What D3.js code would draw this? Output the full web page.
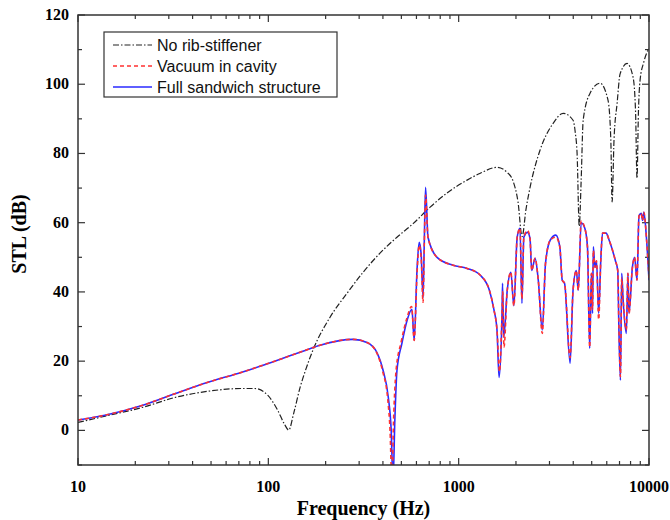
<!DOCTYPE html>
<html>
<head>
<meta charset="utf-8">
<script src="https://cdn.jsdelivr.net/npm/d3@7"></script>
<style>
  body { margin: 0; background: #fff; }
  svg { display: block; }
</style>
</head>
<body>
<svg id="chart" width="670" height="520"></svg>
<script>
// series: [frequency Hz, STL dB]
const noRib = [
  [10,2.3],[14.4,4.3],[21.7,6.6],[32.3,9.5],[48.2,11.3],[72.6,12.1],[85,12.1],[99.5,10.1],
  [112,5.8],[121,2],[128,0.1],[136,5],[147,12.5],[156,17],[171,23],[211,32.7],
  [259,39.6],[315,45.7],[386,51.2],[474,55.8],[578,59.8],[708,64.5],[865,68.5],
  [1107,72.3],[1300,74.3],[1592,76],[1800,74.5],[1932,72],[2050,66],[2154,56],
  [2260,64],[2372,70.2],[2678,81],[3135,88.7],[3540,91.6],[3990,89.6],[4100,86],
  [4190,80],[4300,59],[4400,72],[4510,89.6],[4900,97.4],[5530,100.3],[6090,95.4],
  [6300,84],[6400,66],[6550,84],[6800,94.5],[7050,103],[7670,106],[8250,102],
  [8500,92],[8650,72.8],[8800,92],[8970,101],[9400,106.5],[10000,110.4]
];

const vacuum = [
  [10,3],[14.4,4.6],[21.7,7.2],[32.3,10.6],[48.2,13.9],[72.6,16.8],[108,20],[156,23.1],
  [187,24.6],[278,26.3],[330,25.4],[372,22.3],[399,17],[424,9],[436,0],[446,-15],
  [455,3],[469,17.3],[499,25.6],[533,32.2],[566,35.8],[584,26],[604,45],[620,53.5],
  [635,50],[650,37],[660,54],[670,68],[690,55.8],[770,50],[935,47.7],[1107,46.8],
  [1300,44.8],[1450,40.5],[1530,35],[1590,29],[1640,17],[1690,33.8],[1705,40],
  [1730,24],[1800,40.5],[1880,45.7],[1950,36],[2030,55.8],[2100,58.4],[2150,38],
  [2200,55.8],[2300,57.8],[2370,55.5],[2420,46.2],[2520,49.7],[2620,43.4],[2750,28],
  [2860,48.3],[3030,55],[3240,55.8],[3400,53],[3500,43.4],[3600,42.5],[3850,21],
  [3990,40.5],[4150,46.2],[4250,40.5],[4400,60.5],[4600,58.4],[4750,53],[4880,24],
  [4980,45.4],[5050,35],[5100,52],[5200,47.1],[5300,49],[5440,32],[5580,49],
  [5700,57],[5950,57],[6170,55],[6660,49],[6850,46.2],[6950,30],[7080,15.5],
  [7190,44],[7300,38.4],[7600,29],[7750,45.4],[7850,33.8],[8180,47.1],[8400,50],
  [8650,43.4],[8860,62],[9100,62.7],[9250,60.7],[9400,63],[9700,55.5],[10000,44]
];

const fullSandwich = [
  [10,3],[14.4,4.6],[21.7,7.2],[32.3,10.6],[48.2,13.9],[72.6,16.8],[108,20],[156,23.1],
  [187,24.6],[278,26.3],[330,25.4],[372,22.5],[401,17.3],[427,9.5],[442,0],[452,-15],
  [462,3],[474,17.3],[503,25.1],[536,31.8],[568,35],[584,26],[604,46.2],[620,54.3],
  [635,51],[650,38.4],[660,55],[670,70.2],[690,55.8],[770,50],[935,47.7],[1107,46.8],
  [1300,44.8],[1450,40.5],[1530,35],[1590,29],[1630,15.3],[1690,33.8],[1700,42.5],
  [1725,26.9],[1800,40.5],[1880,45.7],[1950,36],[2030,55.8],[2100,58.4],[2150,36.7],
  [2200,55.8],[2300,57.2],[2370,55.5],[2420,46.2],[2520,49.7],[2620,43.4],[2750,29],
  [2860,48.3],[3030,55],[3240,56.4],[3400,53],[3500,43.4],[3600,42.5],[3850,19.4],
  [3990,40.5],[4150,46.2],[4250,40.5],[4400,60],[4600,58.4],[4750,53],[4880,23.7],
  [4980,45.4],[5050,33.8],[5100,53],[5200,47.1],[5300,49],[5440,33.8],[5580,49],
  [5700,57],[5950,57],[6170,55],[6660,49],[6850,46.2],[6950,29],[7080,14.5],
  [7190,45.4],[7300,38.4],[7600,28],[7750,45.4],[7850,33.8],[8180,47.1],[8400,50],
  [8650,43.4],[8860,62],[9100,62.7],[9250,60.7],[9400,63],[9700,55.5],[10000,43.4]
];

const xTicks = [10, 100, 1000, 10000];
const yTicks = [0, 20, 40, 60, 80, 100, 120];
const legendLabels = ["No rib-stiffener", "Vacuum in cavity", "Full sandwich structure"];

const svg = d3.select("#chart"),
      margin = {top: 15, right: 21, bottom: 55, left: 78},
      width = +svg.attr("width") - margin.left - margin.right,
      height = +svg.attr("height") - margin.top - margin.bottom;

const g = svg.append("g").attr("transform", `translate(${margin.left},${margin.top})`);

const x = d3.scaleLog().domain([10, 10000]).range([0, width]);
const y = d3.scaleLinear().domain([-10, 120]).range([height, 0]);

// minor ticks
const xMinor = [];
for (let dec = 10; dec < 10000; dec *= 10)
  for (let k = 2; k <= 9; k++) xMinor.push(dec * k);
const yMinor = d3.range(-10, 121, 10).filter(v => yTicks.indexOf(v) < 0);

const tickColor = "#333";
function ticks(sel) { sel.attr("stroke", tickColor).attr("stroke-width", 1.2); }

// bottom / top ticks (inward)
[[height, -1], [0, 1]].forEach(([y0, dir]) => {
  g.selectAll(null).data(xTicks).enter().append("line")
    .attr("x1", d => x(d)).attr("x2", d => x(d))
    .attr("y1", y0).attr("y2", y0 + dir * 7).call(ticks);
  g.selectAll(null).data(xMinor).enter().append("line")
    .attr("x1", d => x(d)).attr("x2", d => x(d))
    .attr("y1", y0).attr("y2", y0 + dir * 4).call(ticks);
});
// left / right ticks (inward)
[[0, 1], [width, -1]].forEach(([x0, dir]) => {
  g.selectAll(null).data(yTicks).enter().append("line")
    .attr("y1", d => y(d)).attr("y2", d => y(d))
    .attr("x1", x0).attr("x2", x0 + dir * 7).call(ticks);
  g.selectAll(null).data(yMinor).enter().append("line")
    .attr("y1", d => y(d)).attr("y2", d => y(d))
    .attr("x1", x0).attr("x2", x0 + dir * 4).call(ticks);
});

// tick labels
g.selectAll("text.xt").data(xTicks).enter().append("text")
  .attr("class", "xt")
  .attr("x", d => x(d)).attr("y", height + 27)
  .attr("text-anchor", "middle")
  .style("font", "bold 16px 'Liberation Serif', 'Times New Roman', serif")
  .text(d => d);
g.selectAll("text.yt").data(yTicks).enter().append("text")
  .attr("class", "yt")
  .attr("x", -9).attr("y", d => y(d) + 5)
  .attr("text-anchor", "end")
  .style("font", "bold 16px 'Liberation Serif', 'Times New Roman', serif")
  .text(d => d);

// axis titles
svg.append("text")
  .attr("x", margin.left + width / 2).attr("y", 515)
  .attr("text-anchor", "middle")
  .style("font", "bold 20px 'Liberation Serif', 'Times New Roman', serif")
  .text("Frequency (Hz)");
svg.append("text")
  .attr("transform", `translate(26,${margin.top + height / 2 - 6}) rotate(-90)`)
  .attr("text-anchor", "middle")
  .style("font", "bold 20px 'Liberation Serif', 'Times New Roman', serif")
  .text("STL (dB)");

// clip
g.append("clipPath").attr("id", "clip")
  .append("rect").attr("width", width).attr("height", height);

const line = d3.line()
  .x(d => x(d[0]))
  .y(d => y(d[1]))
  .curve(d3.curveMonotoneX);

const plot = g.append("g").attr("clip-path", "url(#clip)");

plot.append("path").datum(noRib)
  .attr("d", line).attr("fill", "none")
  .attr("stroke", "#222").attr("stroke-width", 1.2)
  .attr("stroke-dasharray", "6,2,1.5,2");
plot.append("path").datum(fullSandwich)
  .attr("d", line).attr("fill", "none")
  .attr("stroke", "#2a2aff").attr("stroke-width", 1.6);
plot.append("path").datum(vacuum)
  .attr("d", line).attr("fill", "none")
  .attr("stroke", "#ff3030").attr("stroke-width", 1.6)
  .attr("stroke-dasharray", "4,3");

// frame
g.append("rect").attr("width", width).attr("height", height)
  .attr("fill", "none").attr("stroke", "#333").attr("stroke-width", 1.5);

// legend
const legend = svg.append("g").attr("transform", "translate(104,32)");
legend.append("rect").attr("width", 233).attr("height", 65)
  .attr("fill", "#fff").attr("stroke", "#333").attr("stroke-width", 1.2);
const styles = [
  {stroke: "#222", dash: "6,2,1.5,2", w: 1.2},
  {stroke: "#ff3030", dash: "4,3", w: 1.6},
  {stroke: "#2a2aff", dash: null, w: 1.6}
];
legendLabels.forEach((lab, i) => {
  const yy = 13 + i * 21;
  legend.append("line")
    .attr("x1", 9).attr("x2", 48).attr("y1", yy).attr("y2", yy)
    .attr("stroke", styles[i].stroke).attr("stroke-width", styles[i].w)
    .attr("stroke-dasharray", styles[i].dash);
  legend.append("text")
    .attr("x", 53).attr("y", yy + 6)
    .style("font", "16px 'Liberation Sans', Arial, sans-serif")
    .attr("fill", "#111")
    .text(lab);
});
</script>
</body>
</html>
